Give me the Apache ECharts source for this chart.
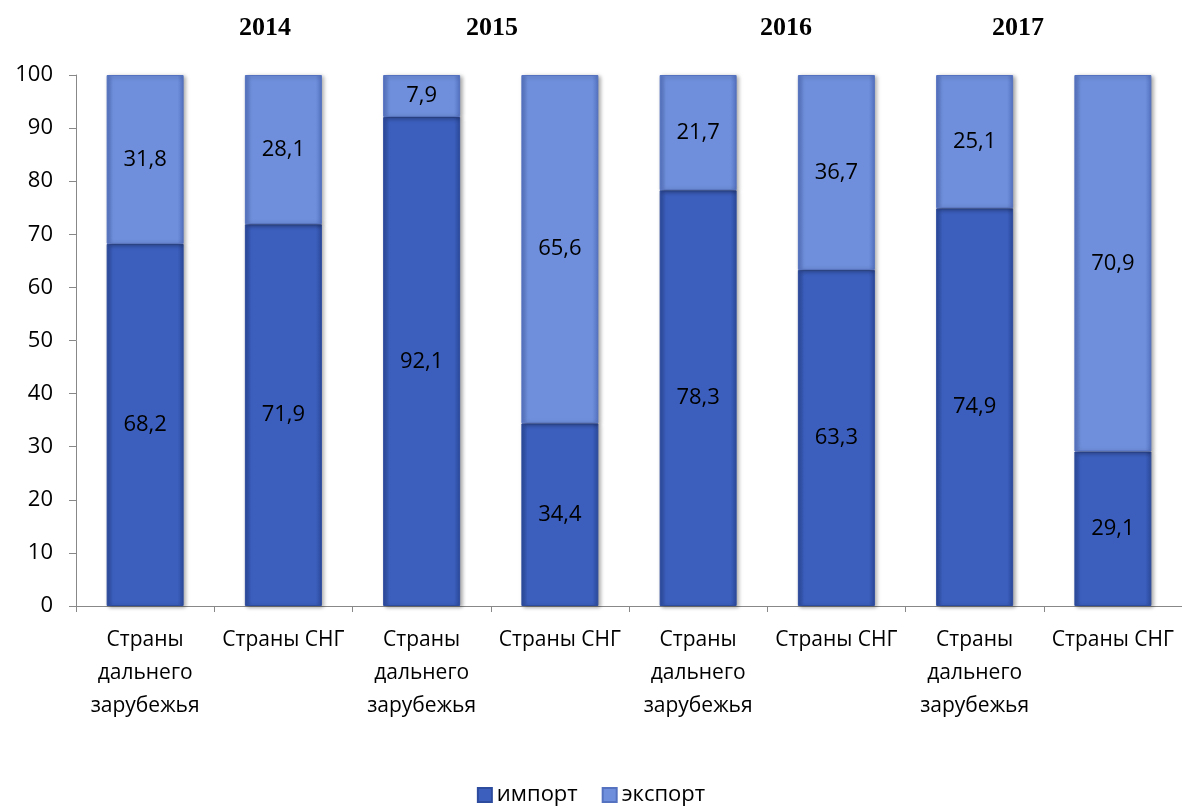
<!DOCTYPE html>
<html><head><meta charset="utf-8">
<script src="https://cdn.jsdelivr.net/npm/echarts@6/dist/echarts.min.js"></script>
<style>html,body{margin:0;padding:0;background:#fff}#c{width:1182px;height:812px}</style>
</head><body><div id="c"></div>
<script>
const categories = ['Страны\nдальнего\nзарубежья','Страны СНГ','Страны\nдальнего\nзарубежья','Страны СНГ','Страны\nдальнего\nзарубежья','Страны СНГ','Страны\nдальнего\nзарубежья','Страны СНГ'];
const importVals = [68.2, 71.9, 92.1, 34.4, 78.3, 63.3, 74.9, 29.1];
const exportVals = [31.8, 28.1, 7.9, 65.6, 21.7, 36.7, 25.1, 70.9];
const years = ['2014','2015','2016','2017'];
const yearX = [265, 492, 786, 1018];

const fmt = v => String(v.value).replace('.', ',');
const font = '"Open Sans", "Noto Sans", sans-serif';
const chart = echarts.init(document.getElementById('c'));
function grad(mid, dark){
  return new echarts.graphic.LinearGradient(0,0,1,0,[
    {offset:0, color:dark},{offset:0.08, color:mid},{offset:0.92, color:mid},{offset:1, color:dark}]);
}
chart.setOption({
  animation:false,
  grid:{left:76,right:0,top:75,bottom:206},
  legend:{bottom:1,left:'center',itemWidth:14,itemHeight:14,itemGap:24,icon:'rect',
    textStyle:{fontFamily:font,fontSize:22,color:'#000'},data:['импорт','экспорт']},
  xAxis:{type:'category',data:categories,
    axisLine:{lineStyle:{color:'#888'}},axisTick:{show:true,length:6,lineStyle:{color:'#888'}},
    axisLabel:{fontFamily:font,fontSize:21,color:'#000',lineHeight:33,interval:0,margin:18}},
  yAxis:{type:'value',min:0,max:100,interval:10,
    splitLine:{show:false},axisLine:{show:true,lineStyle:{color:'#888'}},
    axisTick:{show:true,length:7,lineStyle:{color:'#888'}},
    axisLabel:{fontFamily:font,fontSize:22,color:'#000',margin:23}},
  graphic: years.map((y,i)=>({type:'text',x:yearX[i],y:28,
    style:{text:y,font:'bold 26px "Liberation Serif", serif',fill:'#000',textAlign:'center',textVerticalAlign:'middle'}})),
  series:[
    {name:'импорт',type:'bar',stack:'a',barWidth:77,data:importVals,
      itemStyle:{color:grad('#3c5fbe','#2c4a9c'),borderColor:'#2e4c9e',borderWidth:1,
        shadowColor:'rgba(0,0,0,0.35)',shadowBlur:4,shadowOffsetX:2,shadowOffsetY:1},
      label:{show:true,position:'inside',formatter:fmt,fontFamily:font,fontSize:22,color:'#000'}},
    {name:'экспорт',type:'bar',stack:'a',barWidth:77,data:exportVals,
      itemStyle:{color:grad('#6f8fdc','#5573c2'),borderColor:'#5572c0',borderWidth:1,
        shadowColor:'rgba(0,0,0,0.35)',shadowBlur:4,shadowOffsetX:2,shadowOffsetY:1},
      label:{show:true,position:'inside',formatter:fmt,fontFamily:font,fontSize:22,color:'#000'}}
  ]
});
</script></body></html>
